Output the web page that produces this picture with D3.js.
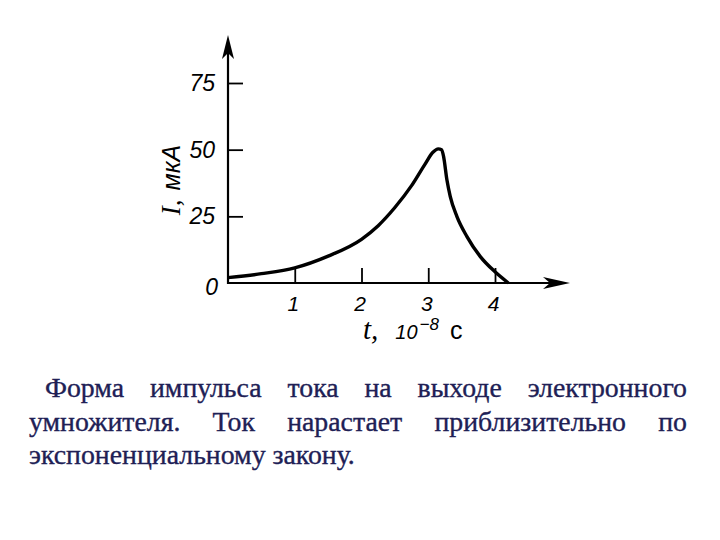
<!DOCTYPE html>
<html><head><meta charset="utf-8">
<script src="https://cdn.jsdelivr.net/npm/d3@7"></script>
<style>
html,body{margin:0;padding:0;background:#fff;}
svg{display:block;}
.cap{font-family:"Liberation Serif","Times New Roman",serif;}
.serif{font-family:"Liberation Serif","Times New Roman",serif;}
.tick text,.tk{font-family:"Liberation Sans",Arial,sans-serif;}
</style></head>
<body>
<svg id="chart" width="720" height="540"></svg>
<script>
// Data
const tValues = [0, 0.5, 1, 1.5, 2, 2.25, 2.5, 2.75, 2.95, 3.07, 3.15, 3.2, 3.23, 3.28, 3.33, 3.43, 3.58, 3.78, 4.0, 4.2];
const IValues = [2.0, 3.5, 5.7, 10.1, 16.4, 21.5, 28.3, 36.5, 44.5, 49.0, 50.3, 50.0, 47.4, 38.6, 32.4, 24.9, 17.4, 9.9, 4.2, 0];
const xTicks = [1, 2, 3, 4];
const yTicks = [25, 50, 75];
const captionLines = [
  "Форма импульса тока на выходе электронного",
  "умножителя. Ток нарастает приблизительно по",
  "экспоненциальному закону."
];

const svg = d3.select("#chart");
const x = d3.scaleLinear().domain([0, 4]).range([228, 495]);
const y = d3.scaleLinear().domain([0, 75]).range([283, 83]);

// Axis lines
const xEnd = 570, yTop = 35;
svg.append("line").attr("x1", x(0)).attr("y1", y(0)).attr("x2", xEnd - 8).attr("y2", y(0))
  .attr("stroke", "#000").attr("stroke-width", 2.2);
svg.append("line").attr("x1", x(0)).attr("y1", y(0) + 1).attr("x2", x(0)).attr("y2", yTop + 8)
  .attr("stroke", "#000").attr("stroke-width", 2.2);
// Arrowheads
svg.append("path").attr("d", `M${xEnd},${y(0)} L${xEnd - 27},${y(0) - 6} L${xEnd - 20},${y(0)} L${xEnd - 27},${y(0) + 6} Z`).attr("fill", "#000");
svg.append("path").attr("d", `M${x(0)},${yTop} L${x(0) - 6},${yTop + 24} L${x(0)},${yTop + 18} L${x(0) + 6},${yTop + 24} Z`).attr("fill", "#000");

// Y axis ticks
const yAxis = d3.axisLeft(y).tickValues(yTicks).tickSizeInner(-15).tickSizeOuter(0).tickPadding(13).tickFormat(d3.format("d"));
const gy = svg.append("g").attr("transform", `translate(${x(0)},0)`).call(yAxis);
gy.select(".domain").remove();
gy.attr("font-family", null).attr("font-size", null);
gy.selectAll(".tick line").attr("stroke", "#000").attr("stroke-width", 1.8);
gy.selectAll(".tick text").style("font-style", "italic").style("font-size", "23px").attr("fill", "#000");

// X axis ticks
const xAxis = d3.axisBottom(x).tickValues(xTicks).tickSizeInner(-15).tickSizeOuter(0).tickPadding(13).tickFormat(d3.format("d"));
const gx = svg.append("g").attr("transform", `translate(0,${y(0)})`).call(xAxis);
gx.select(".domain").remove();
gx.attr("font-family", null).attr("font-size", null);
gx.selectAll(".tick line").attr("stroke", "#000").attr("stroke-width", 1.8);
gx.selectAll(".tick text").style("font-style", "italic").style("font-size", "21px").attr("fill", "#000").attr("dx", -2);

// zero label
svg.append("text").attr("class", "tk").attr("x", x(0) - 10).attr("y", y(0) + 12).attr("text-anchor", "end")
  .style("font-style", "italic").style("font-size", "23px").text("0");

// Axis titles
const yt = svg.append("text").attr("transform", `translate(180,180) rotate(-90)`).attr("text-anchor", "middle")
  .attr("class", "tk").style("font-size", "25px").style("font-style", "italic");
yt.append("tspan").attr("class", "serif").style("font-size", "27px").text("I,");
yt.append("tspan").attr("dx", 9).text("мкА");

const xt = svg.append("text").attr("x", 363).attr("y", 339).attr("class", "tk").style("font-size", "24px");
xt.append("tspan").attr("class", "serif").style("font-style", "italic").style("font-size", "29px").text("t,");
xt.append("tspan").attr("dx", 17).style("font-style", "italic").style("font-size", "20px").text("10");
xt.append("tspan").attr("dy", -9).attr("dx", 2).style("font-style", "italic").style("font-size", "17px").text("−8");
xt.append("tspan").attr("dy", 9).attr("dx", 11).style("font-size", "25px").text("c");

// Curve
const pts = tValues.map((t, i) => [t, IValues[i]]);
const line = d3.line().x(d => x(d[0])).y(d => y(d[1])).curve(d3.curveMonotoneX);
svg.append("path").datum(pts).attr("d", line).attr("fill", "none")
  .attr("stroke", "#000").attr("stroke-width", 3.4).attr("stroke-linejoin", "round");

// Caption, justified by hand
const capLeft = 29, capRight = 687, indent = 16, baselines = [397, 431, 464];
const capColor = "#202055";
// size so that the last (unjustified) line is as wide as in the picture
const probe = svg.append("text").attr("class", "cap").style("font-size", "27px").text(captionLines[2]);
const probeW = probe.node().getComputedTextLength();
probe.remove();
const capSize = Math.min(30, Math.max(22, 27 * 326 / probeW));
captionLines.forEach((ln, li) => {
  const words = ln.split(" ");
  const left = capLeft + (li === 0 ? indent : 0);
  const nodes = words.map(w => svg.append("text").attr("class", "cap").attr("y", baselines[li])
    .style("font-size", capSize + "px").attr("fill", capColor)
    .attr("stroke", capColor).attr("stroke-width", 0.35).text(w));
  const widths = nodes.map(n => n.node().getComputedTextLength());
  const total = d3.sum(widths);
  const last = li === captionLines.length - 1;
  const space = capSize * 0.25;
  const gap = last ? space : (capRight - left - total) / (words.length - 1);
  let cx = left;
  nodes.forEach((n, i) => { n.attr("x", cx); cx += widths[i] + gap; });
});
</script>
</body></html>
